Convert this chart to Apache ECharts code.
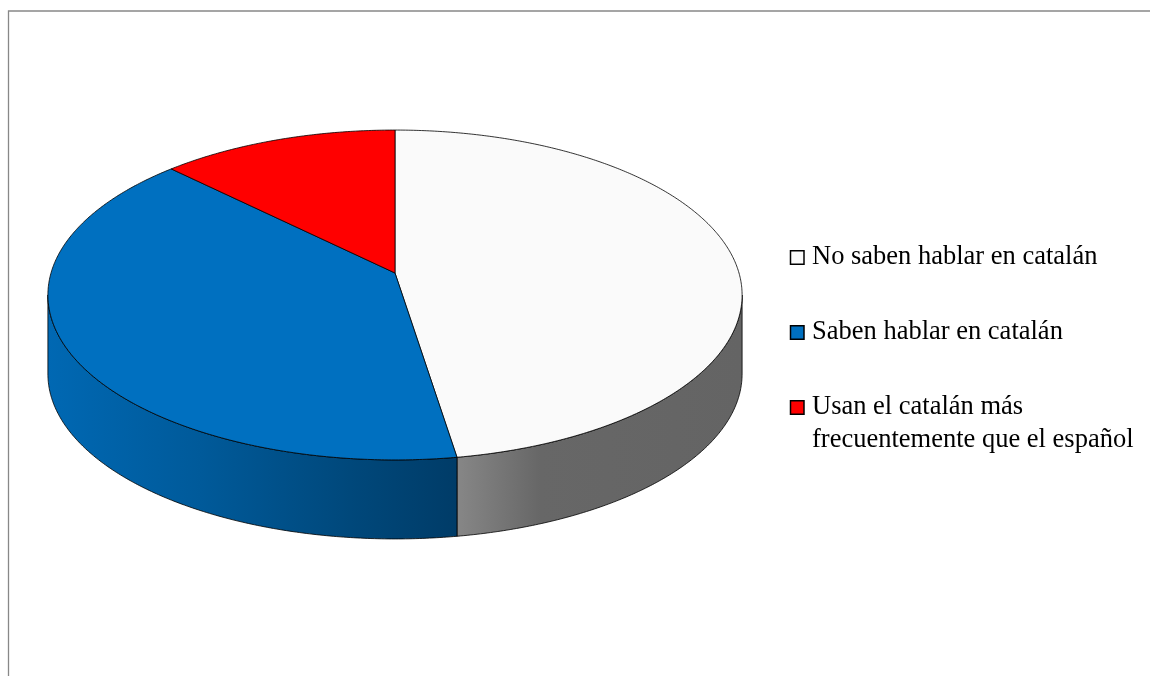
<!DOCTYPE html>
<html>
<head>
<meta charset="utf-8">
<script src="https://cdn.jsdelivr.net/npm/echarts@6/dist/echarts.min.js"></script>
<style>
  html, body { margin: 0; padding: 0; background: #ffffff; }
  #chart { width: 1150px; height: 676px; }
</style>
</head>
<body>
<div id="chart"></div>
<script>
// Categories and their shares (%)
const categories = [
  'No saben hablar en catalán',
  'Saben hablar en catalán',
  'Usan el catalán más\nfrecuentemente que el español'
];
const values = [47.5, 39.9, 12.6];
const colors = ['#fafafa', '#0070c0', '#ff0000'];

// Tilted-disc geometry in pixels: apex (centre of the top face), half-width,
// half-depth, perspective factor and wall height.
const PIE = { cx: 395, cy: 273, a: 344, b: 162, k: 0.1333, depth: 79 };
// Side-wall shading: horizontal stops (x position, brightness factor)
const SHADE = [[48, 0.93], [200, 0.80], [350, 0.64], [456, 0.54], [540, 0.41], [742, 0.40]];
// Legend layout
const LEGEND = { x: 790.5, y: 257.5, gap: 75, box: 13.5, textX: 812, font: '26.5px "Liberation Serif", "Times New Roman", serif', lineHeight: 33 };

const TAU = Math.PI * 2;

// angle measured clockwise from the far point of the disc
function project(psi, dy) {
  const u = Math.sin(psi), v = Math.cos(psi);
  const w = 1 + PIE.k * v;
  return [PIE.cx + PIE.a * u / w, PIE.cy - PIE.b * v / w + dy];
}

function arc(from, to, dy) {
  const pts = [];
  const n = Math.max(2, Math.ceil(Math.abs(to - from) / (Math.PI / 360)));
  for (let i = 0; i <= n; i++) {
    pts.push(project(from + (to - from) * i / n, dy));
  }
  return pts;
}

function scaleColor(hex, f) {
  const n = parseInt(hex.slice(1), 16);
  const r = Math.round(((n >> 16) & 255) * f);
  const g = Math.round(((n >> 8) & 255) * f);
  const b = Math.round((n & 255) * f);
  return 'rgb(' + r + ',' + g + ',' + b + ')';
}

function wallFill(base) {
  const x0 = SHADE[0][0], x1 = SHADE[SHADE.length - 1][0];
  const stops = SHADE.map(function (s) {
    return { offset: (s[0] - x0) / (x1 - x0), color: scaleColor(base, s[1]) };
  });
  return new echarts.graphic.LinearGradient(x0, 0, x1, 0, stops, true);
}

const total = values.reduce(function (s, v) { return s + v; }, 0);

function sliceRenderer(idx) {
  return function (params, api) {
    let before = 0;
    for (let j = 0; j < idx; j++) before += values[j];
    const a0 = before / total * TAU;
    const a1 = (before + api.value(0)) / total * TAU;
    const children = [];

    // front wall, between the two silhouette tangents
    const lo = Math.acos(-PIE.k), hi = TAU - lo;
    const s0 = Math.max(a0, lo), s1 = Math.min(a1, hi);
    if (s1 > s0) {
      const pts = arc(s0, s1, 0).concat(arc(s1, s0, PIE.depth));
      children.push({
        type: 'polygon',
        z2: 1,
        shape: { points: pts },
        style: { fill: wallFill(colors[idx]), stroke: '#000', lineWidth: 0.8, lineJoin: 'round' }
      });
    }

    // top face
    const top = [[PIE.cx, PIE.cy]].concat(arc(a0, a1, 0));
    children.push({
      type: 'polygon',
      z2: 10,
      shape: { points: top },
      style: { fill: colors[idx], stroke: '#000', lineWidth: 0.8, lineJoin: 'round' }
    });
    return { type: 'group', children: children };
  };
}

// legend drawn as graphics so the two-line label keeps its box on the first line
const legendGraphics = [];
categories.forEach(function (name, i) {
  const yc = LEGEND.y + i * LEGEND.gap;
  legendGraphics.push({
    type: 'rect',
    shape: { x: LEGEND.x, y: yc - LEGEND.box / 2, width: LEGEND.box, height: LEGEND.box },
    style: { fill: colors[i], stroke: '#000', lineWidth: 1.5 }
  });
  legendGraphics.push({
    type: 'text',
    x: LEGEND.textX,
    y: yc - LEGEND.lineHeight / 2,
    style: {
      text: name, fill: '#000', font: LEGEND.font,
      lineHeight: LEGEND.lineHeight, verticalAlign: 'top', align: 'left'
    }
  });
});

const chart = echarts.init(document.getElementById('chart'), null, { renderer: 'canvas' });
chart.setOption({
  animation: false,
  backgroundColor: '#ffffff',
  graphic: [
    {
      type: 'rect',
      shape: { x: 8.5, y: 11, width: 1200, height: 700 },
      style: { fill: 'none', stroke: '#888888', lineWidth: 1.3 },
      silent: true
    },
    { type: 'group', children: legendGraphics, silent: true }
  ],
  series: categories.map(function (name, i) {
    return {
      type: 'custom',
      name: name,
      coordinateSystem: 'none',
      silent: true,
      data: [values[i]],
      renderItem: sliceRenderer(i)
    };
  })
});
</script>
</body>
</html>
